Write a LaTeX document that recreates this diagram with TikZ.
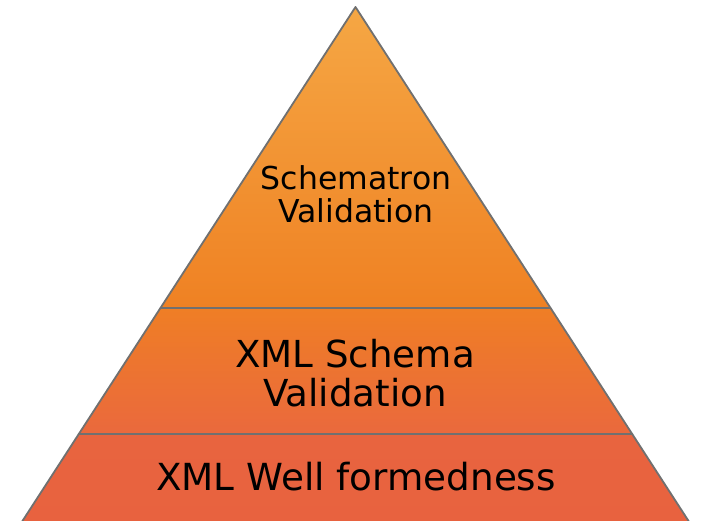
\documentclass[tikz,border=0pt]{standalone}
\usepackage{fontspec}
\setmainfont{DejaVu Sans}
\definecolor{edgegray}{HTML}{707070}
\definecolor{tA}{HTML}{F5A744}
\definecolor{tB}{HTML}{EF8123}
\definecolor{mA}{HTML}{EF7E25}
\definecolor{mB}{HTML}{EA693D}
\definecolor{bA}{HTML}{E8643F}
\definecolor{bB}{HTML}{E8623F}
\tikzset{
  tierline/.style={draw=edgegray, line width=1.8pt, line join=round, line cap=round},
  tiertext/.style={align=center, text=black, inner sep=0pt},
}
\begin{document}
\begin{tikzpicture}[x=1pt,y=-1pt]
\useasboundingbox (0,0) rectangle (705,521);
\clip (0,0) rectangle (705,521);
\coordinate (apex) at (355.5,7);
\coordinate (l1) at (160.5,308);
\coordinate (r1) at (550.5,308);
\coordinate (l2) at (78.8,434);
\coordinate (r2) at (632.2,434);
\coordinate (l3) at (16.6,530);
\coordinate (r3) at (694.4,530);
\shade[top color=tA, bottom color=tB] (apex) -- (l1) -- (r1) -- cycle;
\shade[top color=mA, bottom color=mB] (l1) -- (l2) -- (r2) -- (r1) -- cycle;
\shade[top color=bA, bottom color=bB] (l2) -- (l3) -- (r3) -- (r2) -- cycle;
\draw[tierline] (l3) -- (apex) -- (r3);
\draw[tierline] (l1) -- (r1);
\draw[tierline] (l2) -- (r2);
\node[tiertext, font=\fontsize{31.5}{33}\selectfont] (top) at (356,194) {Schematron\\Validation};
\node[tiertext, font=\fontsize{37.2}{39}\selectfont] (mid) at (355,373) {XML Schema\\Validation};
\node[tiertext, font=\fontsize{37.3}{39}\selectfont] (bot) at (356,477) {XML Well formedness};
\end{tikzpicture}
\end{document}
